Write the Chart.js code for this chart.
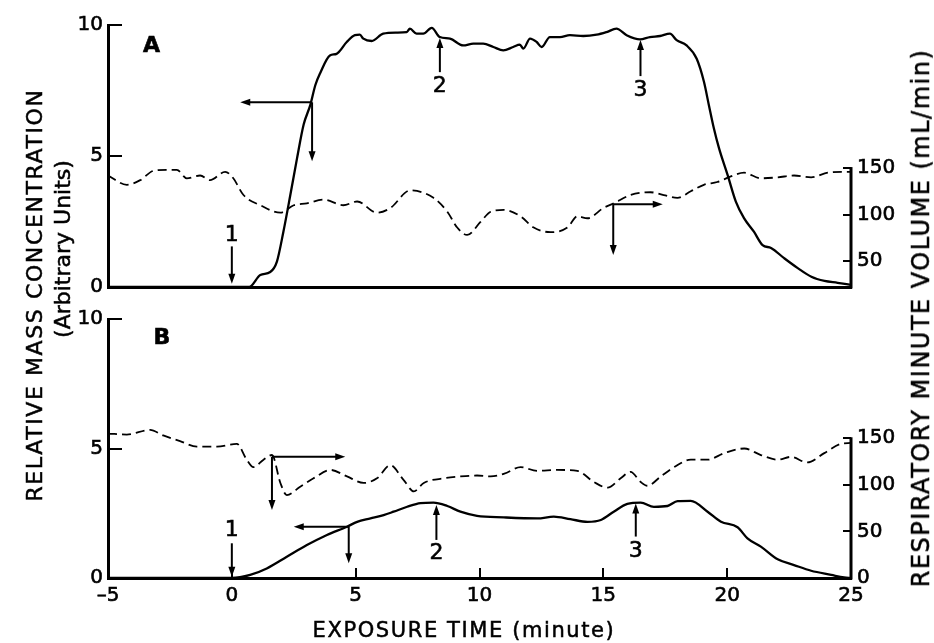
<!DOCTYPE html>
<html>
<head>
<meta charset="utf-8">
<script src="https://cdn.jsdelivr.net/npm/chart.js@4/dist/chart.umd.min.js"></script>
<style>
  body { margin: 0; background: #fff; }
  #wrap { position: relative; width: 934px; height: 643px; background: #fff; }
  canvas { position: absolute; left: 0; }
  .ttl { position: absolute; white-space: nowrap; line-height: 1; color: #000;
         -webkit-text-stroke: 0.5px #000;
         font-family: "DejaVu Sans", sans-serif; transform: translate(-50%, -50%); }
  .rot { transform: translate(-50%, -50%) rotate(-90deg); }
</style>
</head>
<body>
<div id="wrap">
  <canvas id="chartA" width="934" height="300" style="top:0"></canvas>
  <canvas id="chartB" width="934" height="343" style="top:300px"></canvas>
  <div class="ttl rot" style="left:35px; top:295px; font-size:22px; letter-spacing:1.6px">RELATIVE MASS CONCENTRATION</div>
  <div class="ttl rot" style="left:63px; top:249px; font-size:22px">(Arbitrary Units)</div>
  <div class="ttl rot" style="left:921px; top:318px; font-size:24px; letter-spacing:1.5px">RESPIRATORY MINUTE VOLUME (mL/min)</div>
  <div class="ttl" style="left:464px; top:630px; font-size:21px; letter-spacing:1.6px">EXPOSURE TIME (minute)</div>
</div>
<script>
// panel A - relative mass concentration (left axis)
const tA = [-5, 0, 0.7, 1.15, 1.55, 1.82, 2.08, 2.36, 2.63, 2.9, 3.17, 3.37, 3.57,
  3.96, 4.23, 4.64, 4.97, 5.17, 5.31, 5.65, 6.11, 6.65, 7.06, 7.19, 7.46, 7.73, 8.07, 8.4, 8.81, 9.34, 9.75,
  10.15, 10.56, 10.96, 11.36, 11.63, 11.77, 12.04, 12.31, 12.51, 12.84, 13.25, 13.65, 14.19, 14.73, 15.13,
  15.53, 15.94, 16.48, 16.88, 17.29, 17.69, 17.96, 18.36, 18.77,
  19.06, 19.26, 19.46, 19.67, 20.02, 20.35, 20.68, 21.08, 21.43, 21.77, 22.3, 22.85, 23.4, 23.93, 24.46, 25];
const concA = [0, 0, 0, 0.46, 0.57, 0.97, 2.1, 3.5, 4.9, 6.2, 6.95, 7.7, 8.17,
  8.84, 8.9, 9.35, 9.61, 9.63, 9.48, 9.39, 9.67, 9.71, 9.73, 9.86, 9.67, 9.67, 9.89, 9.54, 9.48, 9.22, 9.29,
  9.29, 9.16, 9.03, 9.16, 9.25, 9.1, 9.48, 9.35, 9.16, 9.54, 9.54, 9.61, 9.58, 9.63, 9.73,
  9.86, 9.61, 9.45, 9.54, 9.58, 9.67, 9.42, 9.22, 8.71,
  7.84, 6.95, 6.07, 5.3, 4.27, 3.26, 2.63, 2.11, 1.6, 1.49, 1.1, 0.72, 0.39, 0.23, 0.16, 0.08];
// panel A - respiratory minute volume (right axis, mL/min)
const vtA = [-5, -4.24, -3.7, -3.17, -2.63, -2.22, -1.82, -1.28, -0.88, -0.27, 0.06, 0.47, 1.15, 1.96, 2.5, 3.03, 3.7, 4.5, 5.06, 5.86, 6.4, 7.2, 8.14, 8.7, 9.1, 9.5, 10.04, 10.45, 10.98, 11.66, 12.19, 12.87, 13.55, 13.95, 14.36, 15.0, 15.42, 16.1, 16.9, 17.44, 17.99, 18.53, 19.06, 19.6, 20.15, 20.68, 21.36, 22.04, 22.7, 23.39, 24.06, 24.72, 25];
const volA = [142, 132, 137, 147, 148, 148, 139, 142, 137, 146, 139, 121, 110, 102, 110, 112, 116, 110, 114, 102, 107, 126, 118, 103, 86, 78, 92, 103, 105, 98, 86, 81, 86, 98, 96, 107, 112, 121, 124, 121, 118, 125, 132, 135, 141, 145, 139, 140, 142, 140, 145, 146, 146];

// panel B
const tB = [-5, 0, 0.74, 1.41, 2.22, 3.03, 3.84, 4.65, 5.06, 5.6, 6.13, 6.53, 7.08, 7.62, 8.14, 8.7, 9.23, 9.9, 10.98, 12.33, 13.0, 13.67, 14.36, 14.9, 15.42, 15.97, 16.51, 17.04, 17.59, 18.0, 18.53, 19.21, 19.75, 20.42, 20.82, 21.36, 22.04, 22.7, 23.39, 24.2, 24.72, 25];
const concB = [0, 0, 0.12, 0.37, 0.82, 1.27, 1.66, 1.98, 2.17, 2.3, 2.43, 2.56, 2.75, 2.89, 2.91, 2.78, 2.56, 2.4, 2.34, 2.3, 2.37, 2.27, 2.17, 2.24, 2.56, 2.86, 2.91, 2.75, 2.78, 2.97, 2.98, 2.56, 2.17, 1.96, 1.53, 1.21, 0.72, 0.5, 0.28, 0.12, 0.02, 0];
const vtB = [-5, -4.24, -3.3, -2.77, -2.09, -1.41, -0.6, 0.2, 0.6, 0.87, 1.28, 1.62, 1.96, 2.22, 2.76, 3.3, 3.98, 4.65, 5.32, 5.86, 6.4, 6.94, 7.35, 7.75, 8.56, 9.23, 9.9, 10.45, 11.0, 11.66, 12.33, 13.14, 13.95, 14.62, 15.17, 15.7, 16.1, 16.51, 16.78, 17.32, 17.86, 18.53, 19.21, 19.88, 20.69, 21.36, 22.04, 22.57, 23.24, 23.92, 24.6, 25];
const volB = [155, 154, 159, 153, 147, 141, 141, 144, 127, 119, 127, 132, 102, 89, 98, 107, 116, 109, 102, 107, 121, 105, 93, 102, 107, 109, 110, 109, 112, 119, 115, 116, 115, 103, 97, 107, 114, 103, 99, 109, 119, 127, 127, 134, 139, 132, 127, 130, 124, 134, 144, 145];

// tick labels
const leftTicks = [0, 5, 10];
const rightTicksA = [50, 100, 150];
const rightTicksB = [0, 50, 100, 150];
const timeTicks = [-5, 0, 5, 10, 15, 20, 25];

// annotations: arrows [x0, y0, x1, y1] (head at x1,y1), labels [text, x, y], left-axis units
const arrowsA = [[0, 1.55, 0, 0.12], [8.4, 8.2, 8.4, 9.5], [16.5, 8.05, 16.5, 9.43],
  [3.24, 7.05, 0.34, 7.05], [3.24, 7.05, 3.24, 4.8], [15.4, 3.16, 17.4, 3.16], [15.4, 3.16, 15.4, 1.22]];
const labelsA = [["1", 0, 1.98], ["2", 8.4, 7.65], ["3", 16.5, 7.52], ["A", -3.24, 9.17]];
const arrowsB = [[0, 1.34, 0, 0.05], [8.26, 1.47, 8.26, 2.82], [16.31, 1.6, 16.31, 2.88],
  [4.72, 1.98, 2.5, 1.98], [4.72, 1.98, 4.72, 0.57], [1.62, 4.68, 4.58, 4.68], [1.62, 4.68, 1.62, 2.63]];
const labelsB = [["1", 0, 1.85], ["2", 8.26, 0.95], ["3", 16.31, 1.02], ["B", -2.82, 9.25]];

const FONT = '"DejaVu Sans", sans-serif';
Chart.defaults.color = '#000';
Chart.defaults.font.family = FONT;

const pts = (xs, ys) => xs.map((x, i) => ({ x: x, y: ys[i] }));

function arrow(ctx, x0, y0, x1, y1) {
  const a = Math.atan2(y1 - y0, x1 - x0);
  const len = 10, w = 3.5;
  ctx.beginPath();
  ctx.moveTo(x0, y0);
  ctx.lineTo(x1 - Math.cos(a) * len * 0.8, y1 - Math.sin(a) * len * 0.8);
  ctx.stroke();
  ctx.beginPath();
  ctx.moveTo(x1, y1);
  ctx.lineTo(x1 - Math.cos(a) * len + Math.sin(a) * w, y1 - Math.sin(a) * len - Math.cos(a) * w);
  ctx.lineTo(x1 - Math.cos(a) * len - Math.sin(a) * w, y1 - Math.sin(a) * len + Math.cos(a) * w);
  ctx.closePath();
  ctx.fill();
}

// draws the arrows, numbers, panel letter and the short right axis line (up to 150)
function panelPlugin(arrows, labels) {
  return {
    id: 'panel',
    afterDraw(chart) {
      const ctx = chart.ctx;
      const xs = chart.scales.x, ys = chart.scales.y, r = chart.scales.yR;
      ctx.save();
      ctx.strokeStyle = '#000';
      ctx.fillStyle = '#000';
      ctx.lineWidth = 2;
      arrows.forEach(([x0, y0, x1, y1]) => {
        arrow(ctx, xs.getPixelForValue(x0), ys.getPixelForValue(y0), xs.getPixelForValue(x1), ys.getPixelForValue(y1));
      });
      ctx.textAlign = 'center';
      ctx.textBaseline = 'middle';
      ctx.lineWidth = 0.6;
      labels.forEach(([txt, x, y]) => {
        ctx.font = (/[A-Z]/.test(txt) ? 'bold 22px ' : '22px ') + FONT;
        const px = xs.getPixelForValue(x), py = ys.getPixelForValue(y);
        ctx.fillText(txt, px, py);
        ctx.strokeText(txt, px, py);
      });
      ctx.lineWidth = 3;
      ctx.beginPath();
      ctx.moveTo(r.left, r.getPixelForValue(150) - 1);
      ctx.lineTo(r.left, chart.chartArea.bottom + 1.5);
      ctx.stroke();
      ctx.restore();
    }
  };
}

// fixed axis box sizes, no extra label padding so the plot areas line up with the figure
const fixBox = (w, h) => s => {
  if (w !== null) s.width = w;
  if (h !== null) s.height = h;
  s.paddingTop = 0; s.paddingBottom = 0; s.paddingLeft = 0; s.paddingRight = 0;
};

const tickFont = { size: 20 };

function makeChart(id, conc, vol, opt) {
  return new Chart(document.getElementById(id), {
    type: 'line',
    data: {
      datasets: [
        { data: conc, yAxisID: 'y', borderColor: '#000', borderWidth: 2.3, pointRadius: 0,
          cubicInterpolationMode: 'monotone', fill: false },
        { data: vol, yAxisID: 'yR', borderColor: '#000', borderWidth: 1.8, borderDash: [9, 5],
          pointRadius: 0, cubicInterpolationMode: 'monotone', fill: false }
      ]
    },
    options: {
      responsive: false,
      animation: false,
      events: [],
      layout: { padding: opt.padding },
      plugins: { legend: { display: false }, tooltip: { enabled: false } },
      scales: {
        x: {
          type: 'linear', min: -5, max: 25,
          afterBuildTicks: s => { s.ticks = timeTicks.map(v => ({ value: v })); },
          ticks: { display: opt.showX, padding: 16, font: tickFont, textStrokeColor: '#000', textStrokeWidth: 0.6,
                   callback: v => v < 0 ? '\u2013' + Math.abs(v) : v },
          grid: { drawOnChartArea: false, drawTicks: opt.showX, tickLength: -10, lineWidth: 2, color: '#000' },
          border: { width: 3, color: '#000' },
          afterFit: fixBox(null, opt.xHeight)
        },
        y: {
          position: 'left', min: 0, max: 10,
          afterBuildTicks: s => { s.ticks = leftTicks.map(v => ({ value: v })); },
          ticks: { padding: 19, font: tickFont, textStrokeColor: '#000', textStrokeWidth: 0.6 },
          grid: { drawOnChartArea: false, tickLength: -14, lineWidth: 2, color: '#000' },
          border: { width: 3, color: '#000' },
          afterFit: fixBox(108, null)
        },
        yR: {
          position: 'right', min: opt.rMin, max: opt.rMax,
          afterBuildTicks: s => { s.ticks = opt.rTicks.map(v => ({ value: v })); },
          ticks: { padding: 14, font: tickFont, textStrokeColor: '#000', textStrokeWidth: 0.6 },
          grid: { drawOnChartArea: false, tickLength: -8, lineWidth: 2, color: '#000' },
          border: { display: false },
          afterFit: fixBox(83, null)
        }
      }
    },
    plugins: [panelPlugin(opt.arrows, opt.labels)]
  });
}

makeChart('chartA', pts(tA, concA), pts(vtA, volA), {
  padding: { top: 25, bottom: 13, left: 0, right: 0 },
  showX: false, xHeight: 0, rMin: 22, rMax: 304, rTicks: rightTicksA,
  arrows: arrowsA, labels: labelsA
});

makeChart('chartB', pts(tB, concB), pts(vtB, volB), {
  padding: { top: 19, bottom: 25, left: 0, right: 0 },
  showX: true, xHeight: 40, rMin: 0, rMax: 278, rTicks: rightTicksB,
  arrows: arrowsB, labels: labelsB
});
</script>
</body>
</html>
